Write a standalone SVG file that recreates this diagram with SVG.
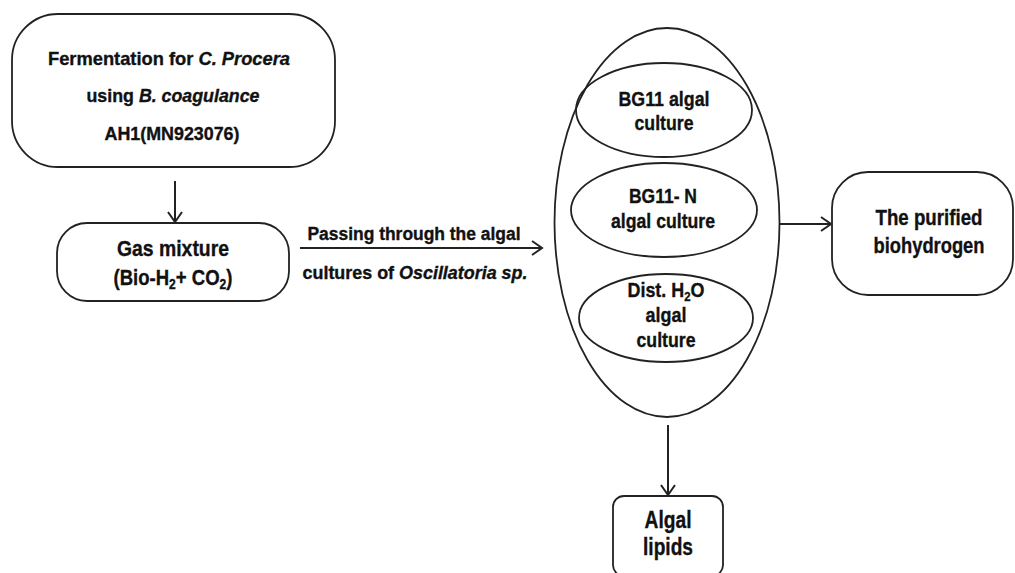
<svg xmlns="http://www.w3.org/2000/svg" width="1015" height="573" viewBox="0 0 1015 573">
<defs>
<style>
.box{fill:#fff;stroke:#222;stroke-width:1.8}
.t{font-family:"Liberation Sans",Arial,sans-serif;font-weight:bold;text-anchor:middle;fill:#111;stroke:#111;stroke-width:0.35}
.i{font-style:italic}
.c{fill:none;stroke:#222;stroke-width:2}
</style>
<marker id="ah" markerUnits="userSpaceOnUse" markerWidth="14" markerHeight="18" refX="11" refY="8" orient="auto">
<path d="M1,1 L11,8 L1,15" fill="none" stroke="#222" stroke-width="2"/>
</marker>
</defs>
<rect width="1015" height="573" fill="#fff"/>
<g id="fermentation">
<rect class="box" x="12" y="14" width="323" height="153" rx="46" ry="46"/>
<text class="t" x="169" y="65" font-size="18.5" textLength="242" lengthAdjust="spacingAndGlyphs">Fermentation for <tspan class="i">C. Procera</tspan></text>
<text class="t" x="173" y="102" font-size="18.5" textLength="173" lengthAdjust="spacingAndGlyphs">using <tspan class="i">B. coagulance</tspan></text>
<text class="t" x="172" y="140" font-size="18.5" textLength="135" lengthAdjust="spacingAndGlyphs">AH1(MN923076)</text>
</g>
<g id="gas">
<rect class="box" x="57" y="223" width="232" height="78" rx="30" ry="30"/>
<text class="t" x="173" y="256" font-size="21.5" textLength="112" lengthAdjust="spacingAndGlyphs">Gas mixture</text>
<text class="t" x="173" y="285" font-size="21.5" textLength="119" lengthAdjust="spacingAndGlyphs">(Bio-H<tspan font-size="14" baseline-shift="-4">2</tspan>+ CO<tspan font-size="14" baseline-shift="-4">2</tspan>)</text>
</g>
<g id="label-passing">
<text class="t" x="414" y="240" font-size="17.5" textLength="213" lengthAdjust="spacingAndGlyphs">Passing through the algal</text>
<text class="t" x="415" y="279" font-size="17.5" textLength="225" lengthAdjust="spacingAndGlyphs">cultures of <tspan class="i">Oscillatoria sp.</tspan></text>
</g>
<g id="algal-cultures">
<ellipse class="box" cx="667" cy="222.5" rx="112.5" ry="194.5" style="fill:none"/>
</g>
<g id="bg11">
<ellipse class="box" cx="664" cy="110" rx="88" ry="47" style="fill:none"/>
<text class="t" x="664" y="106" font-size="20.5" textLength="91" lengthAdjust="spacingAndGlyphs">BG11 algal</text>
<text class="t" x="664" y="130" font-size="20.5" textLength="59" lengthAdjust="spacingAndGlyphs">culture</text>
</g>
<g id="bg11n">
<ellipse class="box" cx="664" cy="210" rx="93" ry="47" style="fill:none"/>
<text class="t" x="663" y="203" font-size="20.5" textLength="68" lengthAdjust="spacingAndGlyphs">BG11- N</text>
<text class="t" x="663" y="228" font-size="20.5" textLength="104" lengthAdjust="spacingAndGlyphs">algal culture</text>
</g>
<g id="dist">
<ellipse class="box" cx="666" cy="318" rx="87" ry="44" style="fill:none"/>
<text class="t" x="666" y="297" font-size="20.5" textLength="77" lengthAdjust="spacingAndGlyphs">Dist. H<tspan font-size="13" baseline-shift="-4">2</tspan>O</text>
<text class="t" x="666" y="322" font-size="20.5" textLength="41" lengthAdjust="spacingAndGlyphs">algal</text>
<text class="t" x="666" y="347" font-size="20.5" textLength="59" lengthAdjust="spacingAndGlyphs">culture</text>
</g>
<g id="purified">
<rect class="box" x="832" y="172" width="181" height="123" rx="36" ry="36"/>
<text class="t" x="929" y="225" font-size="22" textLength="107" lengthAdjust="spacingAndGlyphs">The purified</text>
<text class="t" x="929" y="253" font-size="22" textLength="111" lengthAdjust="spacingAndGlyphs">biohydrogen</text>
</g>
<g id="lipids">
<rect class="box" x="613" y="496" width="110" height="80" rx="11" ry="11"/>
<text class="t" x="668" y="528" font-size="23.5" textLength="47" lengthAdjust="spacingAndGlyphs">Algal</text>
<text class="t" x="668" y="555" font-size="23.5" textLength="50" lengthAdjust="spacingAndGlyphs">lipids</text>
</g>
<g id="connectors">
<line class="c" x1="175" y1="181" x2="175" y2="222" marker-end="url(#ah)"/>
<line class="c" x1="300" y1="248" x2="542" y2="248" marker-end="url(#ah)"/>
<line class="c" x1="779" y1="224" x2="831" y2="224" marker-end="url(#ah)"/>
<line class="c" x1="668" y1="425" x2="668" y2="495" marker-end="url(#ah)"/>
</g>
</svg>
